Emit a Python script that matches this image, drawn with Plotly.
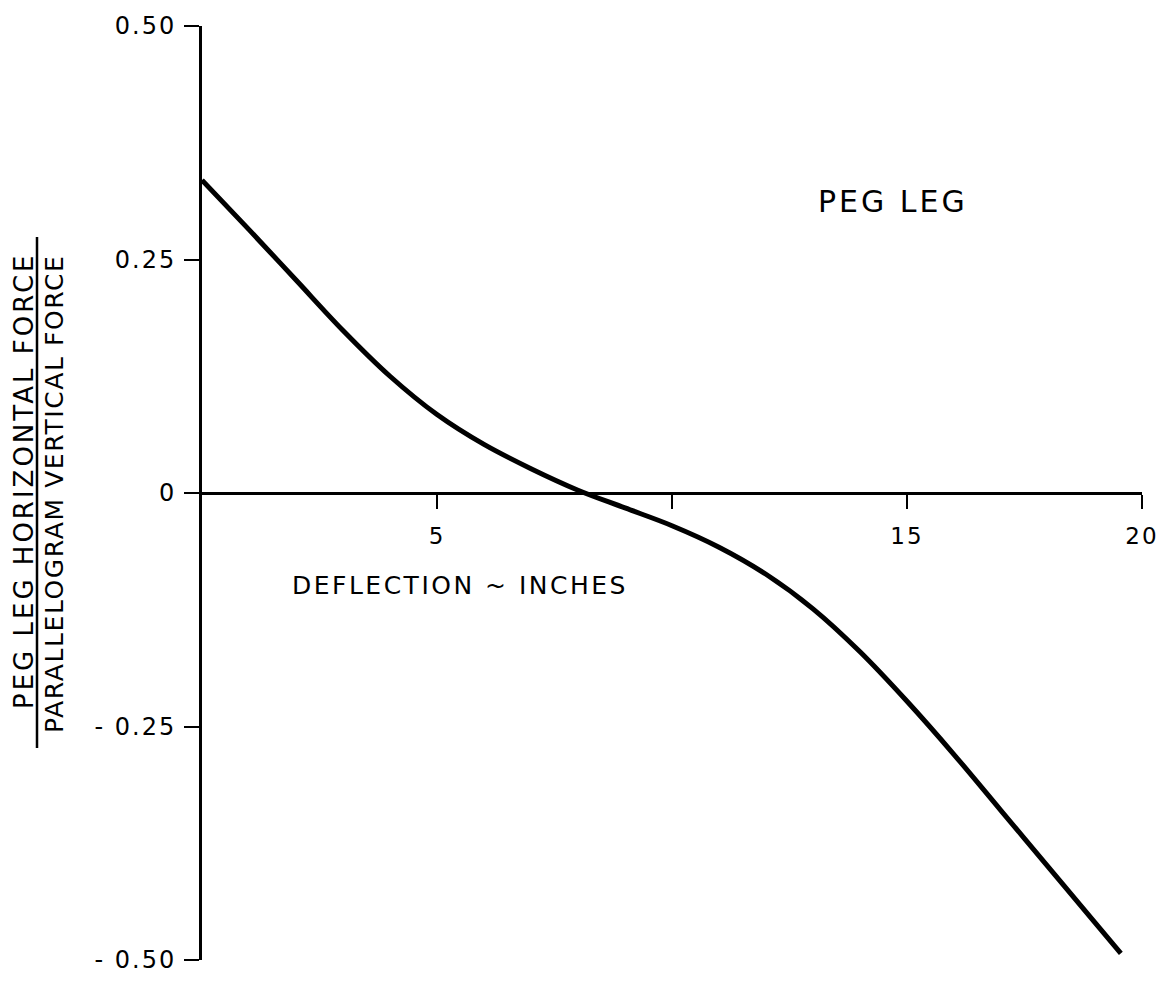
import plotly.graph_objects as go

# Deflection (inches) vs. force ratio
deflection = [0, 1, 2, 3, 4, 5, 6, 7, 8, 9, 10, 11, 12, 13, 14, 15, 16, 17, 18, 19, 19.55]
force_ratio = [0.335, 0.282, 0.228, 0.174, 0.125, 0.084, 0.052, 0.026, 0.003, -0.016, -0.035,
               -0.058, -0.087, -0.124, -0.170, -0.223, -0.280, -0.340, -0.400, -0.460, -0.493]

x_tickvals = [5, 10, 15, 20]
x_ticktext = ["5", "", "15", "20"]
y_tickvals = [0.5, 0.25, 0, -0.25, -0.5]
y_ticktext = ["0.50", "0.25", "0", "- 0.25", "- 0.50"]

W, H = 1163, 984
L, R, T, B = 202, 21, 26, 24
PW, PH = W - L - R, H - T - B

def py(pixel_y):
    return (H - B - pixel_y) / PH

font = "DejaVu Sans"

def spaced(s, sp):
    return f'<span style="letter-spacing:{sp}px">{s}</span>'

fig = go.Figure()
fig.add_trace(go.Scatter(x=deflection, y=force_ratio, mode="lines",
                         line=dict(color="black", width=5, shape="spline", smoothing=1.0),
                         showlegend=False, hoverinfo="skip"))

fig.update_layout(
    template="none",
    width=W, height=H,
    margin=dict(l=L, r=R, t=T, b=B, autoexpand=False),
    paper_bgcolor="white", plot_bgcolor="white",
    xaxis=dict(range=[0, 20], anchor="free", position=0.5, showgrid=False, zeroline=False,
               automargin=False,
               showline=True, linecolor="black", linewidth=3,
               ticks="outside", ticklen=14, tickwidth=2, tickcolor="black",
               tickvals=x_tickvals, ticktext=[spaced(t, 2) for t in x_ticktext],
               ticklabeloverflow="allow", ticklabelstandoff=7,
               tickfont=dict(family=font, size=23, color="black")),
    yaxis=dict(range=[-0.5, 0.5], showgrid=False, zeroline=False,
               automargin=False,
               showline=True, linecolor="black", linewidth=3,
               ticks="outside", ticklen=15, tickwidth=2, tickcolor="black",
               tickvals=y_tickvals, ticktext=[spaced(t, 2) for t in y_ticktext],
               ticklabelstandoff=3,
               tickfont=dict(family=font, size=24, color="black")),
    font=dict(family=font, color="black"),
)

fig.add_annotation(x=14.7, y=0.312, xref="x", yref="y", showarrow=False,
                   xanchor="center", yanchor="middle",
                   text=spaced("PEG LEG", 3),
                   font=dict(family=font, size=30, color="black"))
fig.add_annotation(x=5.49, y=-0.099, xref="x", yref="y", showarrow=False,
                   xanchor="center", yanchor="middle",
                   text=spaced("DEFLECTION ~ INCHES", 2.5),
                   font=dict(family=font, size=25, color="black"))
fig.add_annotation(x=0, xshift=24 - L, y=py(481), xref="paper", yref="paper", showarrow=False,
                   xanchor="center", yanchor="middle", textangle=-90,
                   text=spaced("PEG LEG HORIZONTAL FORCE", 3),
                   font=dict(family=font, size=26, color="black"))
fig.add_annotation(x=0, xshift=54 - L, y=py(494), xref="paper", yref="paper", showarrow=False,
                   xanchor="center", yanchor="middle", textangle=-90,
                   text=spaced("PARALLELOGRAM VERTICAL FORCE", 1.6),
                   font=dict(family=font, size=25, color="black"))
fig.add_shape(type="line", xref="paper", yref="paper",
              x0=(37 - L) / PW, x1=(37 - L) / PW, y0=py(748), y1=py(237),
              line=dict(color="black", width=2.5))

fig.write_html("out.html", config={"displayModeBar": False},
               post_script="document.body.style.margin='0';")
